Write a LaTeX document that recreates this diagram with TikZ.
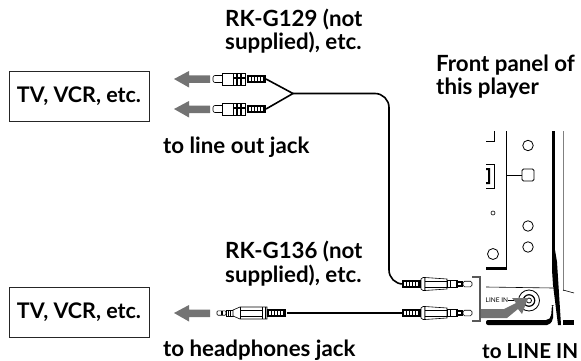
\documentclass[tikz,border=0pt]{standalone}
\usepackage{fontspec}
\setmainfont{Lato}
\usetikzlibrary{calc}
\definecolor{arrowgray}{gray}{0.45}
\tikzset{
  lbl/.style={font=\bfseries\fontsize{22.3}{24}\selectfont,align=left,anchor=base west,inner sep=0pt,text=black},
  devbox/.style={draw=black!85,line width=0.9pt,minimum width=140pt,minimum height=50pt,inner sep=0pt,font=\bfseries\fontsize{21.5}{24}\selectfont},
  cable/.style={line width=1.6pt,line join=round},
  fine/.style={line width=0.6pt},
  panel/.style={line width=0.8pt},
  gray arrow/.style={fill=arrowgray,draw=none}
}
\newcommand{\grip}[2]{% x start, y : striped strain relief 19 wide
  \fill[black] (#1,#2-4) rectangle ++(19,8);
  \foreach \k in {2,5,8,11,14}{\fill[white] (#1+\k,#2-2.2) rectangle ++(2,4.4);}
}
\newcommand{\rcaplug}[2]{% left-pointing phono plug, tip at x=#1
  \draw[fine,fill=white,rounded corners=2pt] (#1,#2-3.5) rectangle ++(11,7);
  \draw[fine,fill=white] (#1+9,#2-6) rectangle ++(15,12);
  \draw[fine,fill=white] (#1+20,#2-6) rectangle ++(12,12);
  \draw[line width=1.1pt] (#1+24,#2-6) -- ++(0,12) (#1+28,#2-6) -- ++(0,12);
  \draw[line width=1.1pt] (#1+20,#2-1)--++(12,0);
  \grip{#1+34}{#2}
}
\newcommand{\miniplugR}[2]{% right-pointing mini plug, grip starts at x=#1
  \grip{#1}{#2}
  \draw[fine,fill=white] (#1+19,#2-5) -- ++(2,-1.5) -- ++(2,0) -- ++(0,13) -- ++(-2,0) -- ++(-2,-1.5) -- cycle;
  \draw[fine,fill=white] (#1+23,#2-6.5) -- ++(22,1.5) -- ++(0,10) -- ++(-22,1.5) -- cycle;
  \draw[fine] (#1+23,#2-3) -- ++(22,0) (#1+23,#2+3) -- ++(22,0);
  \draw[fine,fill=white] (#1+45,#2-3.5) rectangle ++(10,7);
  \draw[fine] (#1+48,#2-3.5) -- ++(0,7);
  \fill[black] (#1+54,#2-2.8) rectangle ++(7,5.6);
  \draw[fine,fill=white,rounded corners=1.5pt] (#1+61,#2-2.8) rectangle ++(9,5.6);
  \fill[white] (#1+55.5,#2-1.2) rectangle ++(3.5,2.4);
}
\newcommand{\miniplugL}[2]{% left-pointing mini plug, tip at x=#1
  \draw[fine,fill=white,rounded corners=1pt] (#1,#2-2.2) rectangle ++(9,4.4);
  \fill[black] (#1+4,#2-2.2) rectangle ++(1.5,4.4);
  \draw[fine,fill=white] (#1+9,#2-3) rectangle ++(7,6);
  \draw[fine] (#1+11,#2-3) -- ++(0,6) (#1+13.5,#2-3) -- ++(0,6);
  \draw[fine,fill=white] (#1+16,#2-3) -- ++(7,-3) -- ++(27,0) -- ++(0,12) -- ++(-27,0) -- ++(-7,-3) -- cycle;
  \draw[fine] (#1+23,#2-6) -- ++(0,12) (#1+45,#2-6) -- ++(0,12) (#1+48,#2-6) -- ++(0,12);
  \draw[fine] (#1+23,#2+3) -- ++(22,0) (#1+23,#2-3) -- ++(22,0);
  \grip{#1+50}{#2}
}
\newcommand{\garrow}[2]{% left-pointing grey arrow, tip at x=#1
  \fill[gray arrow] (#1,#2) -- ++(15,-8) -- ++(0,4.5) -- ++(21,0) -- ++(0,7.5) -- ++(-21,0) -- ++(0,4.5) -- cycle;
}
\begin{document}
\begin{tikzpicture}[x=1pt,y=-1pt]
\useasboundingbox (0,0) rectangle (581,361);
% boxes
\node[devbox] (tvA) at (79,96) {TV, VCR, etc.};
\node[devbox] (tvB) at (79,312) {TV, VCR, etc.};
% labels
\node[lbl] (rkA) at (225,50) {RK-G129 (not\\supplied), etc.};
\node[lbl] (front) at (436,95) {Front panel of\\this player};
\node[lbl] (outj) at (163,153) {to line out jack};
\node[lbl] (rkB) at (225,282) {RK-G136 (not\\supplied), etc.};
\node[lbl] (hpj) at (163,356) {to headphones jack};
\node[lbl,font=\bfseries\fontsize{20.6}{24}\selectfont] (linein) at (482,358) {to LINE IN};
% named cable anchors
\coordinate (gA1) at (266,79);
\coordinate (gA2) at (266,109);
\coordinate (fork) at (293,93.5);
\coordinate (bendT) at (389,93.5);
\coordinate (gR1) at (402,284);
\coordinate (gL) at (287,313);
\coordinate (gR2) at (402,313);
% cables
\draw[cable] (gA1) -- (fork) -- (gA2);
\draw[cable,rounded corners=14pt] (fork) -- (bendT) -- (389,284) -- (gR1);
\draw[cable] (gL) -- (gR2);
% arrows
\garrow{174}{79}
\garrow{174}{109}
\garrow{174}{313}
% plugs
\rcaplug{213}{79}
\rcaplug{213}{109}
\miniplugL{217}{313}
\miniplugR{402}{284}
\miniplugR{402}{313}
% bracket
\draw[draw=black!65,line width=1.1pt] (472,277) -- (480,277) -- (480,321) -- (472,321);
% player panel
\draw[panel] (506,131) -- (506,268);
\fill[black] (486,267) rectangle (507,269.5);
\draw[panel] (486,141) -- (494,141) -- (494,131);
\draw[fine] (486,164) -- (494,164) -- (494,188) -- (486,188);
\fill[black] (486,168) -- (490,168) -- (490,184) -- (486,184) -- (486,182) -- (488,182) -- (488,170) -- (486,170) -- cycle;
\node[draw,fine,circle,minimum size=4pt,inner sep=0pt] (dot) at (493,213) {};
\node[draw,panel,circle,minimum size=11pt,inner sep=0pt] (knobA) at (493,254) {};
\node[draw,panel,circle,minimum size=10.5pt,inner sep=0pt] (cA) at (528,145.5) {};
\node[draw,panel,circle,minimum size=10.5pt,inner sep=0pt] (cB) at (528,226) {};
\node[draw,panel,circle,minimum size=10.5pt,inner sep=0pt] (cC) at (528,247) {};
\node[draw,panel,rounded corners=1.5pt,minimum size=12pt,inner sep=0pt] (sq) at (528,175) {};
\coordinate (panelP) at (506,175);
\draw[panel] (panelP) -- (sq);
% right edges
\fill[black] (552,131) rectangle (555,250);
\fill[black] (552,250) -- (555,250) -- (557,262) -- (561,325) -- (558,325) -- (553,285) -- (552,270) -- cycle;
\draw[line width=0.9pt,draw=black!50] (563,131) -- (563,291);
\draw[fine] (486,287) -- (553,288);
\draw[fine] (563,290) -- (574,293);
\fill[black,rounded corners=2pt] (486,320) -- (486,325) -- (549,325) -- (553,320) -- (553,305) -- (552,305) -- (551,317) -- (548,320) -- cycle;
\fill[black] (563,320) rectangle (574,325);
% jack
\node[draw,line width=0.8pt,circle,minimum size=21pt,inner sep=0pt] (jackO) at (529,300.5) {};
\node[draw,line width=1.2pt,circle,minimum size=11.5pt,inner sep=0pt] (jackM) at (529,300.5) {};
\node[draw,line width=0.8pt,circle,minimum size=5pt,inner sep=0pt] (jackI) at (529,300.5) {};
\node[font=\fontsize{6.5}{8}\selectfont,inner sep=0pt,anchor=west] (linetxt) at (485.5,300.5) {LINE IN};
\coordinate (lineend) at (516,300.5);
\draw[fine] (linetxt.east) -- (lineend);
% grey arrow into jack
\fill[gray arrow] (481,309) -- (504,309) -- (516,303) -- (512,298) -- (528,298) -- (522,314) -- (518,309) -- (507,318) -- (481,318) -- cycle;
\end{tikzpicture}
\end{document}
